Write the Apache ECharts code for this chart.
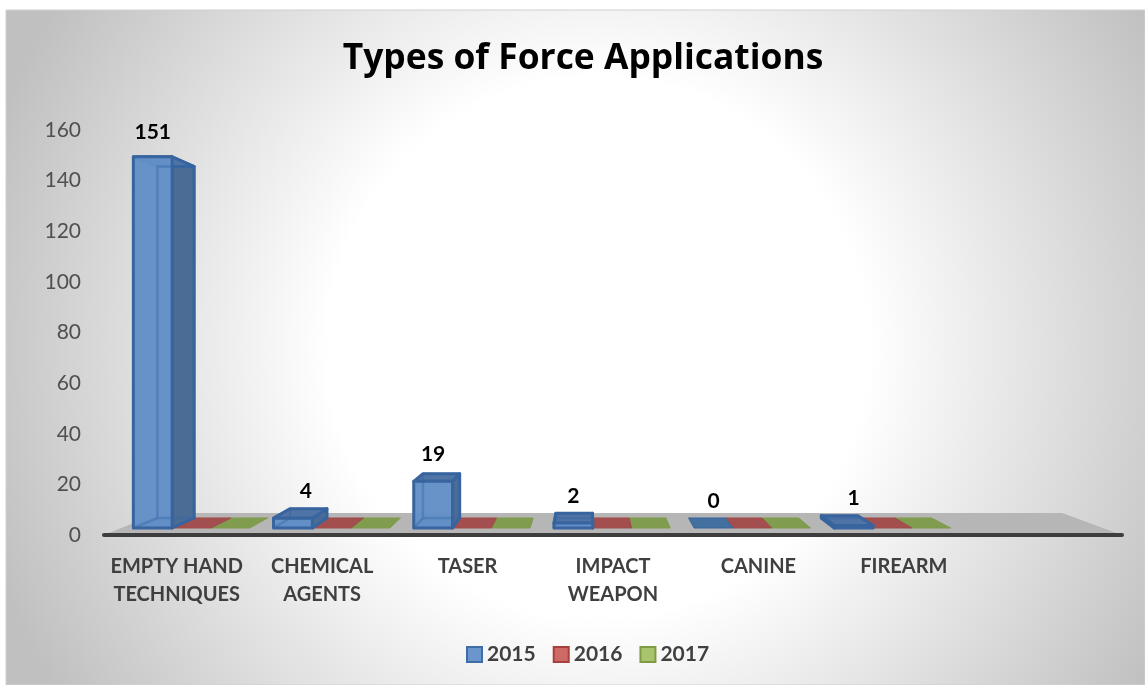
<!DOCTYPE html>
<html>
<head>
<meta charset="utf-8">
<style>html,body{margin:0;padding:0;background:#fff}#chart{width:1145px;height:685px}</style>
<script src="https://cdn.jsdelivr.net/npm/echarts@6/dist/echarts.min.js"></script>
</head>
<body>
<div id="chart"></div>
<script>
const categories = ['EMPTY HAND\nTECHNIQUES', 'CHEMICAL\nAGENTS', 'TASER', 'IMPACT\nWEAPON', 'CANINE', 'FIREARM', ''];
const years = ['2015', '2016', '2017'];
const values2015 = [151, 4, 19, 2, 0, 1];
const values2016 = [0, 0, 0, 0, 0, 0];
const values2017 = [0, 0, 0, 0, 0, 0];

const barColors = {
  '2015': { front: 'rgba(98,143,199,0.97)', side: '#4b6c95', top: '#4f74a5', flat: '#44709f', line: '#38659f' },
  '2016': { flat: '#a34f4f', line: '#a04a4a', legend: '#cd6a66', legendLine: '#a8403e' },
  '2017': { flat: '#809c4f', line: '#7f9c4a', legend: '#a9c46c', legendLine: '#7f9c45' }
};
barColors['2015'].legend = '#6a96cd';
barColors['2015'].legendLine = '#3f6ea6';

// perspective of the excel 3d chart, vanishing point and depth of a bar
const vanish = [588, 339];
const depth = 0.053;
const floorDepth = 0.112;

const toFront = (pt, base) => [vanish[0] + (pt[0] - vanish[0]) * 0.964, base[1] - 7 - (base[1] - pt[1]) * 0.971];
const toBack = (pt, k) => [pt[0] + (vanish[0] - pt[0]) * k, pt[1] + (vanish[1] - pt[1]) * k];

function poly(points, fill, stroke, width, z2) {
  return {
    type: 'polygon',
    z2: z2 || 1,
    shape: { points: points },
    style: { fill: fill || 'none', stroke: stroke || 'none', lineWidth: width || 0, lineJoin: 'round' }
  };
}

function renderBar(seriesIndex, params, api) {
  const cat = api.value(0);
  const val = api.value(1);
  const colors = barColors[years[seriesIndex]];
  const base = api.coord([cat, 0]);
  const band = api.size([1, 0])[0];
  const gap = band * 0.17;
  const w = (band - gap) / 3;
  // bars sit a bit behind the front edge of the floor, shifted with the band
  const left = base[0] - band / 2 + gap / 2 + w * seriesIndex;
  const a = toFront([left, base[1]], base);
  const b = toFront([left + w, base[1]], base);
  const top = api.coord([cat, val]);
  const c = toFront([left + w, top[1]], base);
  const d = toFront([left, top[1]], base);
  const a2 = toBack(a, depth), b2 = toBack(b, depth), c2 = toBack(c, depth), d2 = toBack(d, depth);
  const kids = [];
  if (val === 0) {
    kids.push(poly([a, b, b2, a2], colors.flat, colors.line, 1));
    return { type: 'group', children: kids };
  }
  const sideIsRight = a[0] < vanish[0];
  const side = sideIsRight ? [b, c, c2, b2] : [a, d, d2, a2];
  kids.push(poly([a, b, b2, a2], colors.top, null, 0, 1));
  kids.push(poly(side, colors.side, colors.line, 3, 2));
  kids.push(poly([d, c, c2, d2], colors.top, colors.line, 3, 3));
  kids.push(poly([a, b, c, d], colors.front, colors.line, 3, 4));
  // hidden edges seen through the glass front
  kids.push(poly([a2, b2, c2, d2], null, 'rgba(56,101,159,0.4)', 2.5, 5));
  kids.push({
    type: 'line', z2: 5,
    shape: { x1: a[0], y1: a[1], x2: a2[0], y2: a2[1] },
    style: { stroke: 'rgba(56,101,159,0.4)', lineWidth: 2.5 }
  });
  return { type: 'group', children: kids };
}

function renderFloor(params, api) {
  const l = api.coord([0, 0]);
  const r = api.coord([6, 0]);
  const band = api.size([1, 0])[0];
  const p1 = [l[0] - band / 2, l[1]];
  const p2 = [r[0] + band / 2, r[1]];
  return poly([p1, p2, toBack(p2, floorDepth), toBack(p1, floorDepth)], '#b6b6b6');
}

function renderLabel(params, api) {
  const cat = api.value(0);
  const val = api.value(1);
  const base = api.coord([cat, 0]);
  const top = api.coord([cat, val]);
  const band = api.size([1, 0])[0];
  const left = base[0] - band / 2 + band * 0.085;
  const center = toFront([left + band * 0.83 / 6, top[1]], base);
  const frontTop = base[1] - 7 - (base[1] - top[1]) * 0.964;
  return {
    type: 'text',
    x: center[0] + (cat === 1 ? 13 : 0),
    y: frontTop - 27,
    style: {
      text: String(val), fill: '#000', align: 'center', verticalAlign: 'middle',
      fontFamily: 'Lato', fontSize: 21, fontWeight: 'bold'
    }
  };
}

const chart = echarts.init(document.getElementById('chart'));
chart.setOption({
  animation: false,
  textStyle: { fontFamily: 'Lato' },
  title: {
    text: 'Types of Force Applications',
    left: 578, top: 36, textAlign: 'center',
    textStyle: { fontFamily: 'Open Sans', fontSize: 35.4, fontWeight: 'bold', color: '#000' }
  },
  graphic: [{
    type: 'rect', z: -10, silent: true,
    shape: { x: 6, y: 10, width: 1139, height: 675 },
    style: {
      fill: {
        type: 'radial', x: 0.52, y: 0.5, r: 0.95,
        colorStops: [
          { offset: 0, color: '#ffffff' }, { offset: 0.42, color: '#ffffff' },
          { offset: 1, color: '#c0c0c0' }
        ]
      },
      stroke: '#d0d0d0', lineWidth: 1
    }
  }],
  legend: {
    data: years,
    icon: 'rect',
    left: 461, bottom: 15, itemWidth: 15, itemHeight: 15, itemGap: 17,
    textStyle: { fontFamily: 'Lato', fontSize: 21, fontWeight: 'bold', color: '#404040' }
  },
  grid: { left: 104, right: 23, top: 130, height: 405 },
  xAxis: {
    type: 'category',
    data: categories,
    axisTick: { show: false },
    axisLine: { show: true, lineStyle: { color: '#3d3d3d', width: 4, cap: 'round' } },
    axisLabel: { interval: 0, margin: 18, lineHeight: 28, fontFamily: 'Lato', fontSize: 20, fontWeight: 'bold', color: '#3f3f3f' },
    z: 5
  },
  yAxis: {
    type: 'value', min: 0, max: 160, interval: 20,
    splitLine: { show: false },
    axisLine: { show: false },
    axisTick: { show: false },
    axisLabel: { margin: 23, fontFamily: 'Lato', fontSize: 21, color: '#505050' }
  },
  series: [
    { type: 'custom', silent: true, z: 1, renderItem: renderFloor, data: [[0, 0]], encode: { x: 0, y: 1 } },
    { name: '2015', type: 'custom', z: 4, itemStyle: { color: barColors['2015'].legend, borderColor: barColors['2015'].legendLine, borderWidth: 2 },
      renderItem: (p, api) => renderBar(0, p, api), data: values2015.map((v, i) => [i, v]), encode: { x: 0, y: 1 } },
    { name: '2016', type: 'custom', z: 3, itemStyle: { color: barColors['2016'].legend, borderColor: barColors['2016'].legendLine, borderWidth: 2 },
      renderItem: (p, api) => renderBar(1, p, api), data: values2016.map((v, i) => [i, v]), encode: { x: 0, y: 1 } },
    { name: '2017', type: 'custom', z: 2, itemStyle: { color: barColors['2017'].legend, borderColor: barColors['2017'].legendLine, borderWidth: 2 },
      renderItem: (p, api) => renderBar(2, p, api), data: values2017.map((v, i) => [i, v]), encode: { x: 0, y: 1 } },
    { type: 'custom', silent: true, z: 6, renderItem: renderLabel, data: values2015.map((v, i) => [i, v]), encode: { x: 0, y: 1 } }
  ]
});
</script>
</body>
</html>
